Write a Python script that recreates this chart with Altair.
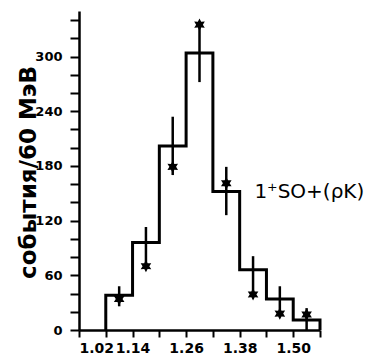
import math
import altair as alt
import pandas as pd

# Histogram bins (GeV) and heights (events / 60 MeV)
bin_edges = [1.08, 1.14, 1.20, 1.26, 1.32, 1.38, 1.44, 1.50, 1.56]
hist_vals = [38, 96, 202, 304, 152, 66, 34, 11]

# Star points (bin centers) with error bars
star_x = [1.11, 1.17, 1.23, 1.29, 1.35, 1.41, 1.47, 1.53]
star_y = [34, 70, 179, 335, 161, 39, 18, 17]
err_lo = [26, 70, 170, 272, 126, 40, 18, 0]
err_hi = [48, 113, 234, 335, 179, 81, 48, 24]

label_text = "1⁺SO+(ρK)"
y_title = "события/60 МэВ"

FONT = "DejaVu Sans"

# six-pointed star symbol path
star_pts = []
for k in range(12):
    r = 1.0 if k % 2 == 0 else 0.55
    a = math.pi / 2 + k * math.pi / 6
    star_pts.append(f"{r*math.cos(a):.3f},{-r*math.sin(a):.3f}")
STAR = "M" + "L".join(star_pts) + "Z"

# Build step outline of histogram
pts = [(bin_edges[0], 0)]
for i, v in enumerate(hist_vals):
    pts.append((bin_edges[i], v))
    pts.append((bin_edges[i + 1], v))
pts.append((bin_edges[-1], 0))
hist_df = pd.DataFrame({"x": [p[0] for p in pts], "y": [p[1] for p in pts],
                        "o": list(range(len(pts)))})

star_df = pd.DataFrame({"x": star_x, "y": star_y, "lo": err_lo, "hi": err_hi})

xscale = alt.Scale(domain=[1.02, 1.56], nice=False, zero=False)
yscale = alt.Scale(domain=[0, 350], nice=False)

x_ticks = [round(1.02 + 0.06 * i, 2) for i in range(10)]
y_ticks = list(range(0, 341, 20))

xaxis = alt.Axis(values=x_ticks, format=".2f", title=None, grid=False, orient="bottom",
                 labelExpr="round((datum.value-1.02)/0.06) % 2 == 0 ? datum.label : ''",
                 labelOverlap=False,
                 domainWidth=2.5, domainColor="black", tickColor="black",
                 tickWidth=2, tickSize=7, labelFontSize=14, labelFont=FONT,
                 labelFontWeight="bold", labelColor="black", labelPadding=4)
yaxis = alt.Axis(values=y_ticks, title=y_title, grid=False, orient="left",
                 labelExpr="datum.value % 60 == 0 ? datum.label : ''",
                 labelOverlap=False,
                 domainWidth=2.5, domainColor="black", tickColor="black",
                 tickWidth=2, tickSize=9, labelFontSize=13, labelFont=FONT,
                 labelFontWeight="bold", labelColor="black", labelPadding=8,
                 titleFont=FONT, titleFontSize=23, titleFontWeight="bold",
                 titleColor="black", titleAngle=-90, titleAlign="center",
                 titleBaseline="middle", titleX=-51, titleY=161)

hist = alt.Chart(hist_df).mark_line(color="black", strokeWidth=3,
                                    strokeJoin="miter").encode(
    x=alt.X("x:Q", scale=xscale, axis=xaxis),
    y=alt.Y("y:Q", scale=yscale, axis=yaxis),
    order="o:Q",
)

errs = alt.Chart(star_df).mark_rule(color="black", strokeWidth=2.5).encode(
    x=alt.X("x:Q", scale=xscale, axis=xaxis),
    y=alt.Y("lo:Q", scale=yscale, axis=yaxis),
    y2="hi:Q",
)

stars = alt.Chart(star_df).mark_point(shape=STAR, filled=True, color="black",
                                      size=150, opacity=1).encode(
    x=alt.X("x:Q", scale=xscale, axis=xaxis),
    y=alt.Y("y:Q", scale=yscale, axis=yaxis),
)

txt = alt.Chart(pd.DataFrame({"x": [1.413], "y": [151], "t": [label_text]})).mark_text(
    align="left", baseline="middle", font=FONT, fontSize=20, color="black"
).encode(
    x=alt.X("x:Q", scale=xscale, axis=xaxis),
    y=alt.Y("y:Q", scale=yscale, axis=yaxis),
    text="t:N",
)

chart = alt.layer(hist, errs, stars, txt).properties(
    width=241, height=319,
    background="white",
    autosize=alt.AutoSizeParams(type="none"),
    padding={"left": 71, "top": 3, "right": 45, "bottom": 26},
).configure_view(stroke=None)

chart.save("out.html", embed_options={"renderer": "svg", "actions": False})
